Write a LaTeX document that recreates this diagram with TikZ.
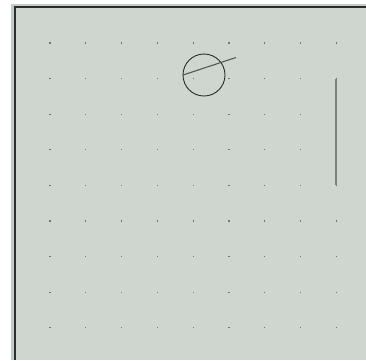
\documentclass[tikz,border=0pt]{standalone}
\definecolor{canvas}{RGB}{206,214,207}
\definecolor{rim}{RGB}{196,202,197}
\definecolor{ink}{RGB}{40,46,42}
\begin{document}
\begin{tikzpicture}[x=1pt,y=-1pt]
\tikzset{griddot/.style={fill=black!55},
bar/.style={line width=1.6pt,color=ink!60}}
\useasboundingbox (0,0) rectangle (366,360);
\fill[white] (0,0) rectangle (366,360);
\fill[rim] (11,4) rectangle (366,360);
\fill[canvas] (14,7) rectangle (366,360);
\draw[line width=1.5pt,ink] (15,360)--(15,7)--(366,7);
\foreach \i in {0,...,8} {
\foreach \j in {0,...,8} {
\fill[griddot] ({50+35.8*\i-0.6},{43+35.6*\j-0.6}) rectangle ++(1.2,1.2);
}}
\coordinate (c) at (204,75);
\draw[ink,line width=0.9pt] (c) circle[radius=21];
\draw[ink!80,line width=1.1pt] (c) ++(180:21) coordinate(a) -- (236,57.5) coordinate(b);
\draw[bar] (336,79)--(336,185);
\end{tikzpicture}
\end{document}
